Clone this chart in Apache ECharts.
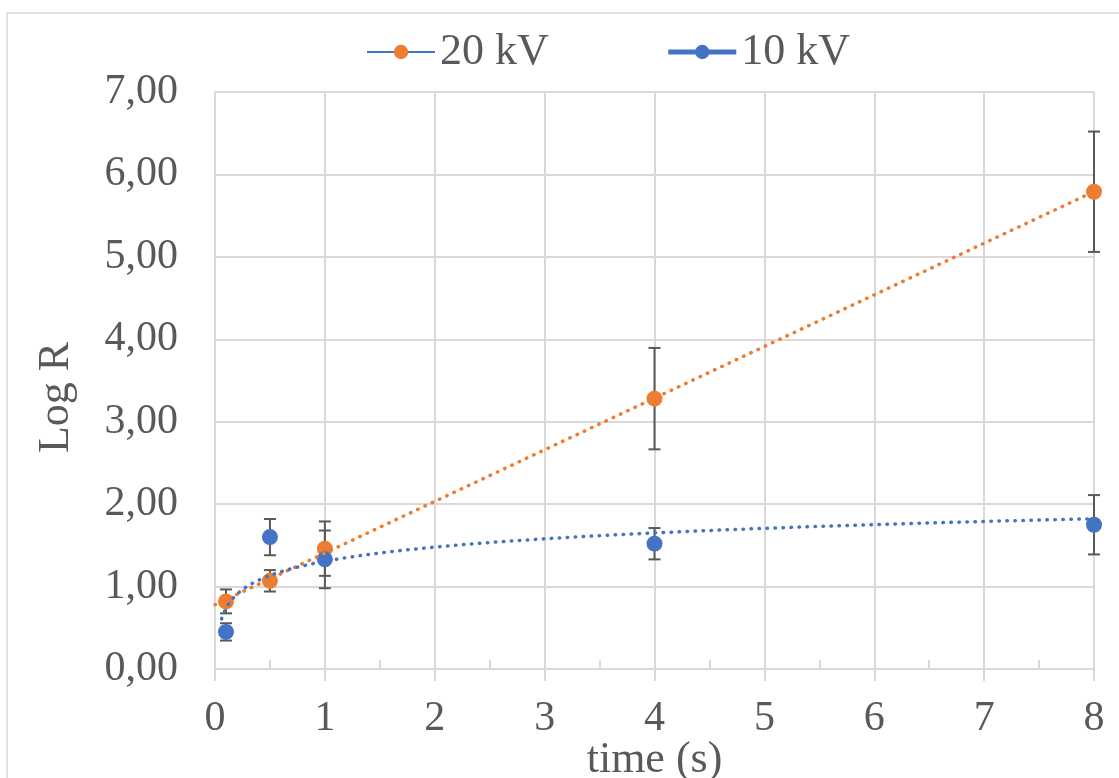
<!DOCTYPE html>
<html><head><meta charset="utf-8">
<script src="https://cdn.jsdelivr.net/npm/echarts@6/dist/echarts.min.js"></script>
<style>html,body{margin:0;padding:0;background:#fff}#c{width:1119px;height:778px}</style>
</head><body><div id="c"></div>
<script>
// ---- data ----
const timeS = [0.1, 0.5, 1, 4, 8];
const logR20 = [0.82, 1.07, 1.46, 3.28, 5.79];
const err20 = [0.145, 0.13, 0.33, 0.615, 0.73];
const logR10 = [0.45, 1.60, 1.33, 1.52, 1.75];
const err10 = [0.105, 0.22, 0.35, 0.19, 0.36];
const yTickLabels = ['0,00', '1,00', '2,00', '3,00', '4,00', '5,00', '6,00', '7,00'];
const xTickLabels = ['0', '1', '2', '3', '4', '5', '6', '7', '8'];
const seriesNames = ['20 kV', '10 kV'];

// ---- trendlines fitted from the data (least squares, as in the spreadsheet) ----
function linFit(xs, ys) {
  const n = xs.length, mx = xs.reduce((a, b) => a + b) / n, my = ys.reduce((a, b) => a + b) / n;
  let sxx = 0, sxy = 0;
  for (let i = 0; i < n; i++) { sxx += (xs[i] - mx) ** 2; sxy += (xs[i] - mx) * (ys[i] - my); }
  const b = sxy / sxx; return { a: my - b * mx, b };
}
const lin20 = linFit(timeS, logR20);
const log10 = linFit(timeS.map(Math.log), logR10);
const trend20 = [[0, lin20.a], [8, lin20.a + lin20.b * 8]];
const trend10 = [];
for (let x = 0.06; x <= 8.0001; x += (x < 1 ? 0.01 : 0.05)) trend10.push([x, log10.a + log10.b * Math.log(x)]);

const ORANGE = '#ED7D31', BLUE = '#4472C4', GRID = '#d9d9d9', TXT = '#595959', ERR = '#595959';
const FONT = 'Liberation Serif';

function errSeries(vals, errs) {
  return {
    type: 'custom', silent: true, z: 2,
    data: timeS.map((x, i) => [x, vals[i] - errs[i], vals[i] + errs[i]]),
    renderItem: (params, api) => {
      const lo = api.coord([api.value(0), api.value(1)]);
      const hi = api.coord([api.value(0), api.value(2)]);
      const w = 6;
      const st = { stroke: ERR, lineWidth: 2 };
      return { type: 'group', children: [
        { type: 'line', shape: { x1: lo[0], y1: lo[1], x2: hi[0], y2: hi[1] }, style: st },
        { type: 'line', shape: { x1: lo[0] - w, y1: lo[1], x2: lo[0] + w, y2: lo[1] }, style: st },
        { type: 'line', shape: { x1: hi[0] - w, y1: hi[1], x2: hi[0] + w, y2: hi[1] }, style: st }
      ]};
    }
  };
}

const chart = echarts.init(document.getElementById('c'), null, { renderer: 'canvas' });
chart.setOption({
  animation: false,
  backgroundColor: '#fff',
  textStyle: { fontFamily: FONT },
  graphic: [{ type: 'rect', shape: { x: 7, y: 13, width: 1200, height: 800 }, style: { fill: 'none', stroke: GRID, lineWidth: 1.5 }, silent: true }],
  grid: { left: 215, right: 25, top: 92, bottom: 109, outerBoundsMode: 'none', containLabel: false },
  legend: {
    top: 25, left: 361, itemGap: 117, itemWidth: 68, itemHeight: 18,
    textStyle: { fontFamily: FONT, fontSize: 44, color: TXT },
    data: [
      { name: seriesNames[0], lineStyle: { color: BLUE, width: 2, opacity: 1 }, itemStyle: { color: ORANGE } },
      { name: seriesNames[1], lineStyle: { color: BLUE, width: 5, opacity: 1 }, itemStyle: { color: BLUE } }
    ]
  },
  xAxis: [{
    type: 'value', min: 0, max: 8, interval: 1,
    name: 'time (s)', nameLocation: 'middle', nameGap: 69, nameMoveOverlap: false,
    nameTextStyle: { fontFamily: FONT, fontSize: 44, color: TXT },
    axisLine: { lineStyle: { color: GRID, width: 2 } },
    axisTick: { show: true, inside: false, length: 12, lineStyle: { color: GRID, width: 2 } },
    splitLine: { show: true, lineStyle: { color: GRID, width: 2 } },
    axisLabel: { fontFamily: FONT, fontSize: 42, color: TXT, margin: 29, formatter: v => xTickLabels[Math.round(v)] }
  }, {
    type: 'value', min: 0, max: 8, interval: 0.5, position: 'bottom',
    axisLine: { show: false }, splitLine: { show: false }, axisLabel: { show: false },
    axisTick: { show: true, inside: true, length: 9, lineStyle: { color: GRID, width: 2 } }
  }],
  yAxis: {
    type: 'value', min: 0, max: 7, interval: 1,
    name: 'Log R', nameLocation: 'middle', nameGap: 137, nameRotate: 90, nameMoveOverlap: false,
    nameTextStyle: { fontFamily: FONT, fontSize: 44, color: TXT, padding: [0, 34, 0, 0] },
    axisLine: { show: true, lineStyle: { color: GRID, width: 2 } },
    axisTick: { show: false },
    splitLine: { show: true, lineStyle: { color: GRID, width: 2 } },
    axisLabel: { fontFamily: FONT, fontSize: 42, color: TXT, margin: 37, formatter: v => yTickLabels[Math.round(v)] }
  },
  series: [
    errSeries(logR20, err20),
    errSeries(logR10, err10),
    { name: seriesNames[0], type: 'line', z: 3, data: timeS.map((x, i) => [x, logR20[i]]),
      symbol: 'circle', symbolSize: 16, itemStyle: { color: ORANGE }, lineStyle: { opacity: 0, color: BLUE } },
    { name: seriesNames[1], type: 'line', z: 3, data: timeS.map((x, i) => [x, logR10[i]]),
      symbol: 'circle', symbolSize: 16, itemStyle: { color: BLUE }, lineStyle: { opacity: 0, color: BLUE } },
    { name: 'trend20', type: 'line', z: 4, data: trend20, showSymbol: false, silent: true,
      lineStyle: { color: ORANGE, width: 3.5, type: [0.5, 7.5], cap: 'round' } },
    { name: 'trend10', type: 'line', z: 4, data: trend10, showSymbol: false, silent: true,
      lineStyle: { color: BLUE, width: 3.5, type: [0.5, 7.5], cap: 'round' } }
  ]
});
</script></body></html>
